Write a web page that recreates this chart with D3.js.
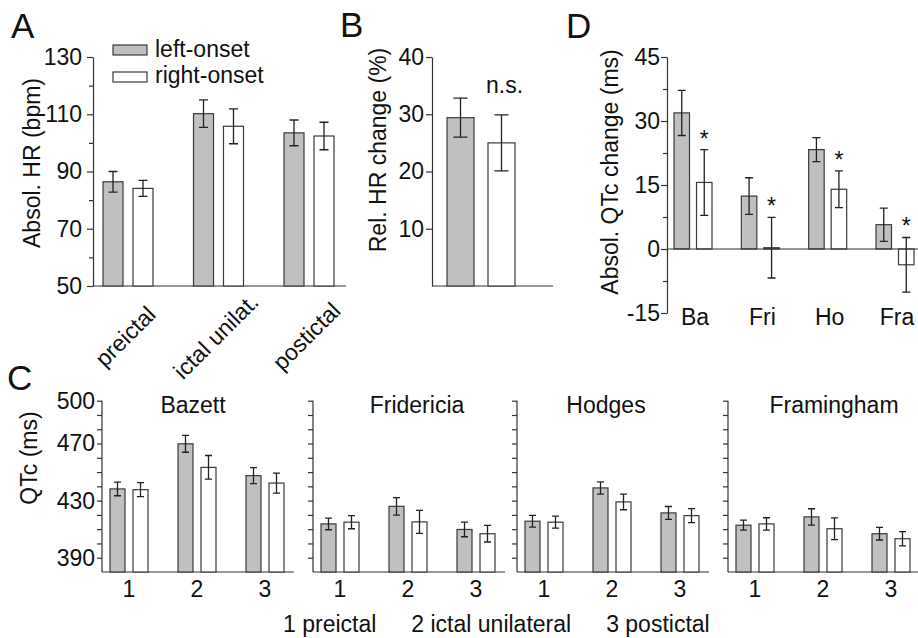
<!DOCTYPE html>
<html><head><meta charset="utf-8">
<script src="https://cdn.jsdelivr.net/npm/d3@7"></script>
<style>
body{margin:0;background:#fff}
svg{display:block}
text{font-family:"Liberation Sans",Arial,Helvetica,sans-serif;fill:#111}
</style></head><body><svg id="c" width="918" height="638"></svg>
<script>
// ---------------- data ----------------
const seriesKeys = ["left-onset", "right-onset"];
const phaseLabels = ["preictal", "ictal unilat.", "postictal"];
const hrLeft = [86.4, 110.2, 103.5], hrLeftErr = [3.6, 4.8, 4.5];
const hrRight = [84.1, 105.8, 102.4], hrRightErr = [2.8, 6.1, 4.8];
const hrTicks = [50, 70, 90, 110, 130], hrMinor = [60, 80, 100, 120];

const relCats = ["left-onset", "right-onset"];
const relVals = [29.4, 25.0], relErr = [3.4, 4.9];
const relTicks = [10, 20, 30, 40];
const relNote = "n.s.";

const qtcCats = ["Ba", "Fri", "Ho", "Fra"];
const dqLeft = [31.9, 12.4, 23.3, 5.7], dqLeftErr = [5.3, 4.3, 2.8, 3.9];
const dqRight = [15.6, 0.3, 14.0, -3.7], dqRightErr = [7.7, 7.1, 4.3, 6.4];
const dqSig = ["*", "*", "*", "*"];
const dqTicks = [-15, 0, 15, 30, 45], dqMinor = [-7.5, 7.5, 22.5, 37.5];

const formulas = ["Bazett", "Fridericia", "Hodges", "Framingham"];
const phaseNums = ["1", "2", "3"];
const qtcLeft = [[438.2, 469.8, 447.5], [413.7, 426.0, 409.8], [415.6, 438.9, 421.4], [412.8, 418.6, 406.8]];
const qtcLeftErr = [[4.8, 5.9, 5.6], [4.1, 6.1, 5.1], [4.1, 4.3, 4.5], [3.5, 5.7, 4.4]];
const qtcRight = [[437.7, 453.3, 442.3], [414.9, 415.1, 406.8], [414.9, 429.1, 419.5], [413.7, 410.3, 403.3]];
const qtcRightErr = [[4.9, 8.3, 7.0], [4.6, 8.1, 5.8], [4.2, 5.5, 4.9], [4.3, 7.6, 5.0]];
const qtcTickLabels = [390, 430, 470, 500];
const qtcTicks = [390, 400, 410, 420, 430, 440, 450, 460, 470, 480, 490, 500];
const caption = ["1 preictal", "2 ictal unilateral", "3 postictal"];

// ---------------- drawing ----------------
const svg = d3.select("#c");
svg.append("rect").attr("width", 918).attr("height", 638).attr("fill", "#fff");
const FONT = '"Liberation Sans",Arial,Helvetica,sans-serif';
const FS = 23;
const FILL = {"left-onset": "#c0c0c0", "right-onset": "#ffffff"};
const STROKE = "#3a3a3a";
const fmt = d => String(d);

function txt(g, x, y, s, o = {}) {
  const t = g.append("text").attr("x", 0).attr("y", 0)
    .attr("transform", `translate(${x},${y})` + (o.rot ? ` rotate(${o.rot})` : ""))
    .attr("font-size", o.fs || FS).attr("text-anchor", o.anchor || "start")
    .attr("font-family", FONT).attr("fill", "#111").text(s);
  return t;
}
function styleAxis(sel) {
  sel.attr("font-family", FONT).attr("font-size", FS);
  sel.select(".domain").attr("stroke", "#333").attr("stroke-width", 1.2);
  sel.selectAll(".tick line").attr("stroke", "#333").attr("stroke-width", 1.2);
  sel.selectAll(".tick text").attr("fill", "#111");
}
function bars(g, cats, xpos, width, y, base, vals, errs, key, capW) {
  const data = cats.map((c, i) => ({c, v: vals[i], e: errs[i]}));
  g.selectAll(null).data(data).join("rect")
    .attr("x", d => xpos(d.c)).attr("width", width)
    .attr("y", d => Math.min(y(d.v), y(base)))
    .attr("height", d => Math.abs(y(d.v) - y(base)))
    .attr("fill", FILL[key]).attr("stroke", STROKE).attr("stroke-width", 1.2);
  g.selectAll(null).data(data).join("path")
    .attr("d", d => {
      const x = xpos(d.c) + width / 2, y1 = y(d.v + d.e), y0 = y(d.v - d.e), h = capW / 2;
      return `M${x},${y0}V${y1}M${x - h},${y1}H${x + h}M${x - h},${y0}H${x + h}`;
    })
    .attr("stroke", "#222").attr("stroke-width", 1.3).attr("fill", "none");
}
function hline(g, x0, x1, y) {
  g.append("line").attr("x1", x0).attr("x2", x1).attr("y1", y).attr("y2", y)
    .attr("stroke", "#333").attr("stroke-width", 1.2);
}

// Panel letters
txt(svg, 11, 38, "A", {fs: 35});
txt(svg, 340, 37, "B", {fs: 35});
txt(svg, 7, 390, "C", {fs: 35});
txt(svg, 566, 38, "D", {fs: 35});

// ---------- Panel A ----------
{
  const g = svg.append("g");
  const y = d3.scaleLinear().domain([50, 130]).range([286, 57]);
  const x = d3.scalePoint().domain(phaseLabels).range([128, 309]);
  const sub = d3.scaleBand().domain(seriesKeys).range([-25, 25]).paddingInner(0.333);
  const ax = g.append("g").attr("transform", "translate(93,0)")
    .call(d3.axisLeft(y).tickValues(hrTicks).tickFormat(fmt).tickSize(6).tickPadding(5).tickSizeOuter(0));
  styleAxis(ax);
  const mi = g.append("g").attr("transform", "translate(93,0)")
    .call(d3.axisLeft(y).tickValues(hrMinor).tickSize(4).tickFormat(""));
  styleAxis(mi); mi.select(".domain").remove();
  hline(g, 93, 346, y(50));
  bars(g, phaseLabels, c => x(c) + sub("left-onset"), sub.bandwidth(), y, 50, hrLeft, hrLeftErr, "left-onset", 9);
  bars(g, phaseLabels, c => x(c) + sub("right-onset"), sub.bandwidth(), y, 50, hrRight, hrRightErr, "right-onset", 9);
  phaseLabels.forEach(c => txt(g, x(c) + 3, 342, c, {rot: -45, anchor: "middle"}));
  txt(g, 40, 163, "Absol. HR (bpm)", {rot: -90, anchor: "middle"});
  // legend
  seriesKeys.forEach((k, i) => {
    g.append("rect").attr("x", 113).attr("y", 45 + i * 27).attr("width", 34).attr("height", 10)
      .attr("fill", FILL[k]).attr("stroke", STROKE).attr("stroke-width", 1.2);
    txt(g, 155, 57 + i * 26, k);
  });
}

// ---------- Panel B ----------
{
  const g = svg.append("g");
  const y = d3.scaleLinear().domain([0, 40]).range([286, 57]);
  const x = d3.scaleBand().domain(relCats).range([447, 515]).paddingInner(0.341);
  const ax = g.append("g").attr("transform", "translate(432,0)")
    .call(d3.axisLeft(y).tickValues(relTicks).tickFormat(fmt).tickSize(6).tickPadding(2).tickSizeOuter(0));
  styleAxis(ax);
  hline(g, 432, 553, y(0));
  relCats.forEach((k, i) => bars(g, [k], c => x(c), x.bandwidth(), y, 0, [relVals[i]], [relErr[i]], k, 14));
  txt(g, x(relCats[1]) + x.bandwidth() / 2 + 3, y(relVals[1] + relErr[1]) - 22, relNote, {anchor: "middle"});
  txt(g, 386, 150, "Rel. HR change (%)", {rot: -90, anchor: "middle"});
}

// ---------- Panel D ----------
{
  const g = svg.append("g");
  const y = d3.scaleLinear().domain([-15, 45]).range([313, 57]);
  const x = d3.scalePoint().domain(qtcCats).range([693, 895]);
  const sub = d3.scaleBand().domain(seriesKeys).range([-19, 19]).paddingInner(0.311);
  const ax = g.append("g").attr("transform", "translate(667,0)")
    .call(d3.axisLeft(y).tickValues(dqTicks).tickFormat(fmt).tickSize(6).tickPadding(1).tickSizeOuter(0));
  styleAxis(ax);
  const mi = g.append("g").attr("transform", "translate(667,0)")
    .call(d3.axisLeft(y).tickValues(dqMinor).tickSize(4).tickFormat(""));
  styleAxis(mi); mi.select(".domain").remove();
  bars(g, qtcCats, c => x(c) + sub("left-onset"), sub.bandwidth(), y, 0, dqLeft, dqLeftErr, "left-onset", 8);
  bars(g, qtcCats, c => x(c) + sub("right-onset"), sub.bandwidth(), y, 0, dqRight, dqRightErr, "right-onset", 8);
  hline(g, 667, 918, y(0));
  qtcCats.forEach((c, i) => {
    txt(g, x(c) + sub("right-onset") + sub.bandwidth() / 2, y(dqRight[i] + dqRightErr[i]) - 3, dqSig[i], {anchor: "middle"});
    txt(g, x(c) + 2, y(-15) + 12, c, {anchor: "middle"});
  });
  txt(g, 618, 172, "Absol. QTc change (ms)", {rot: -90, anchor: "middle"});
}

// ---------- Panel C ----------
{
  const origins = [102, 313, 517, 728];
  const titleDx = [91, 104, 89, 106];
  const y = d3.scaleLinear().domain([380, 500]).range([572, 400.7]);
  formulas.forEach((f, fi) => {
    const o = origins[fi];
    const g = svg.append("g");
    const x = d3.scalePoint().domain(phaseNums).range([o + 27, o + 163]);
    const sub = d3.scaleBand().domain(seriesKeys).range([-19, 19]).paddingInner(0.348);
    const ax = g.append("g").attr("transform", `translate(${o},0)`)
      .call(d3.axisLeft(y).tickValues(qtcTicks).tickSize(5).tickPadding(2).tickSizeOuter(0)
        .tickFormat(d => (fi === 0 && qtcTickLabels.includes(d)) ? String(d) : ""));
    styleAxis(ax);
    ax.select(".domain").attr("d", `M0,${y(380)}V${y(500)}`);
    hline(g, o, o + 192, y(380));
    bars(g, phaseNums, c => x(c) + sub("left-onset"), sub.bandwidth(), y, 380, qtcLeft[fi], qtcLeftErr[fi], "left-onset", 7);
    bars(g, phaseNums, c => x(c) + sub("right-onset"), sub.bandwidth(), y, 380, qtcRight[fi], qtcRightErr[fi], "right-onset", 7);
    phaseNums.forEach(c => txt(g, x(c), 597, c, {anchor: "middle"}));
    txt(g, o + titleDx[fi], 413, f, {anchor: "middle"});
  });
  txt(svg, 37, 458, "QTc (ms)", {rot: -90, anchor: "middle"});
  let cx = 283;
  caption.forEach(s => {
    const t = txt(svg, cx, 632, s);
    cx += t.node().getComputedTextLength() + 35;
  });
}
</script></body></html>
